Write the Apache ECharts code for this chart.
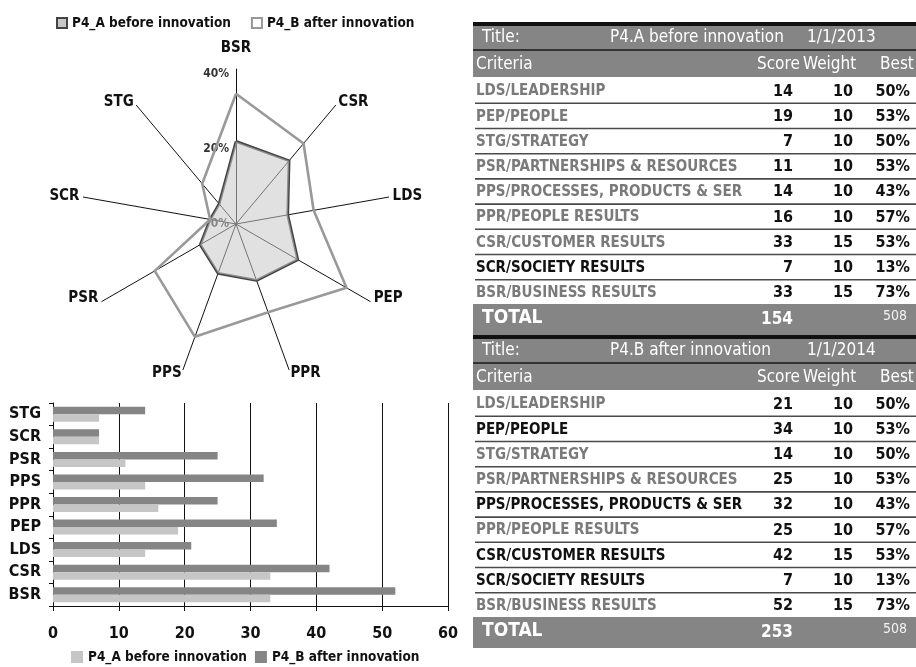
<!DOCTYPE html>
<html>
<head>
<meta charset="utf-8">
<script src="https://cdn.jsdelivr.net/npm/echarts@6/dist/echarts.min.js"></script>
<style>
  html, body { margin: 0; padding: 0; background: #fff; }
  #chart { width: 916px; height: 667px; }
</style>
</head>
<body>
<div id="chart"></div>
<script>
const FONT = "'Liberation Sans Narrow', 'Arial Narrow', 'DejaVu Sans Condensed', sans-serif";

// Scorecard criteria, in table order
const codes = ['LDS', 'PEP', 'STG', 'PSR', 'PPS', 'PPR', 'CSR', 'SCR', 'BSR'];
const criteriaNames = [
  'LDS/LEADERSHIP', 'PEP/PEOPLE', 'STG/STRATEGY', 'PSR/PARTNERSHIPS & RESOURCES',
  'PPS/PROCESSES, PRODUCTS & SER', 'PPR/PEOPLE RESULTS', 'CSR/CUSTOMER RESULTS',
  'SCR/SOCIETY RESULTS', 'BSR/BUSINESS RESULTS'
];
const scoresBefore = [14, 19, 7, 11, 14, 16, 33, 7, 33];
const scoresAfter = [21, 34, 14, 25, 32, 25, 42, 7, 52];
const weights = [10, 10, 10, 10, 10, 10, 15, 10, 15];
const bestPct = [50, 53, 50, 53, 43, 57, 53, 13, 73];
const totalBefore = 154;
const totalAfter = 253;
const bestTotal = 508;
// criteria printed in black (the rest in grey)
const darkBefore = ['SCR'];
const darkAfter = ['PEP', 'PPS', 'CSR', 'SCR'];

// Radar axes: top first, then counter-clockwise
const radarAxes = ['BSR', 'STG', 'SCR', 'PSR', 'PPS', 'PPR', 'PEP', 'LDS', 'CSR'];
const radarBefore = [22, 7, 7, 11, 14, 16, 19, 14, 22];
const radarAfter = [34.7, 14, 7, 25, 32, 25, 34, 21, 28];
const radarTicks = [0, 20, 40];

// Bar chart categories, bottom to top
const barCats = ['BSR', 'CSR', 'LDS', 'PEP', 'PPR', 'PPS', 'PSR', 'SCR', 'STG'];

const NAME_A = 'P4_A before innovation';
const NAME_B = 'P4_B after innovation';

const chart = echarts.init(document.getElementById('chart'), null, { renderer: 'canvas' });

function font(weight, size) {
  return weight + ' ' + size + 'px ' + FONT;
}

function txt(text, x, y, opts) {
  const o = opts || {};
  return {
    type: 'text',
    silent: true,
    style: {
      text: String(text), x: x, y: y,
      fill: o.fill || '#111',
      font: font(o.weight || 'bold', o.size || 15),
      align: o.align || 'left', textAlign: o.align || 'left',
      verticalAlign: 'middle', textVerticalAlign: 'middle'
    }
  };
}

// One scorecard table starting at vertical offset `top`
function tableGraphics(top, label, date, scores, total, darkCodes) {
  const L = 473, R = 916, W = R - L;
  const HEAD = '#858585';
  const els = [];
  els.push({ type: 'rect', silent: true, shape: { x: L, y: top, width: W, height: 4 }, style: { fill: '#111' } });
  els.push({ type: 'rect', silent: true, shape: { x: L, y: top + 4, width: W, height: 51 }, style: { fill: HEAD } });
  els.push({ type: 'rect', silent: true, shape: { x: L, y: top + 27, width: W, height: 2 }, style: { fill: '#333' } });
  els.push(txt('Title:', 482, top + 16, { fill: '#fff', weight: 'normal', size: 17 }));
  els.push(txt(label, 610, top + 16, { fill: '#fff', weight: 'normal', size: 17 }));
  els.push(txt(date, 807, top + 16, { fill: '#fff', weight: 'normal', size: 17 }));
  els.push(txt('Criteria', 476, top + 43, { fill: '#fff', weight: 'normal', size: 17 }));
  els.push(txt('Score', 757, top + 43, { fill: '#fff', weight: 'normal', size: 17 }));
  els.push(txt('Weight', 803, top + 43, { fill: '#fff', weight: 'normal', size: 17 }));
  els.push(txt('Best', 880, top + 43, { fill: '#fff', weight: 'normal', size: 17 }));
  const pitch = 25.2;
  for (let i = 0; i < codes.length; i++) {
    const cy = top + 69.5 + pitch * i;
    const dark = darkCodes.indexOf(codes[i]) >= 0;
    els.push(txt(criteriaNames[i], 476, cy, { fill: dark ? '#111' : '#7a7a7a', size: 15 }));
    els.push(txt(scores[i], 793, cy, { align: 'right', size: 16 }));
    els.push(txt(weights[i], 853, cy, { align: 'right', size: 16 }));
    els.push(txt(bestPct[i] + '%', 910, cy, { align: 'right', size: 16 }));
    if (i < codes.length - 1) {
      els.push({ type: 'rect', silent: true, shape: { x: 475, y: top + 80.5 + pitch * i, width: R - 475, height: 1.6 }, style: { fill: '#4a4a4a' } });
    }
  }
  els.push({ type: 'rect', silent: true, shape: { x: L, y: top + 282, width: W, height: 31 }, style: { fill: HEAD } });
  els.push(txt('TOTAL', 482, top + 296, { fill: '#fff', size: 19 }));
  els.push(txt(total, 793, top + 298, { fill: '#fff', size: 17, align: 'right' }));
  els.push(txt(bestTotal, 907, top + 294, { fill: '#f2f2f2', weight: 'normal', size: 14, align: 'right' }));
  return els;
}

const graphics = [].concat(
  tableGraphics(22, 'P4.A before innovation', '1/1/2013', scoresBefore, totalBefore, darkBefore),
  tableGraphics(335, 'P4.B after innovation', '1/1/2014', scoresAfter, totalAfter, darkAfter)
);

const axisText = { fontFamily: FONT, fontWeight: 'bold', fontSize: 16, color: '#111' };
const RADAR_MAX = 41.3;

const option = {
  backgroundColor: '#fff',
  animation: false,
  textStyle: { fontFamily: FONT },
  legend: [
    {
      left: 51, top: 11, itemWidth: 10, itemHeight: 10, itemGap: 20,
      textStyle: { fontFamily: FONT, fontWeight: 'bold', fontSize: 13.5, color: '#111' },
      data: [
        { name: NAME_A, icon: 'rect', itemStyle: { color: '#c8c8c8', borderColor: '#444', borderWidth: 2 } },
        { name: NAME_B, icon: 'rect', itemStyle: { color: '#fff', borderColor: '#999', borderWidth: 2 } }
      ]
    },
    {
      left: 66, top: 645, itemWidth: 12, itemHeight: 12, itemGap: 8,
      textStyle: { fontFamily: FONT, fontWeight: 'bold', fontSize: 13.5, color: '#111' },
      data: [
        { name: NAME_A, icon: 'rect', itemStyle: { color: '#c6c6c6', borderWidth: 0 } },
        { name: NAME_B, icon: 'rect', itemStyle: { color: '#858585', borderWidth: 0 } }
      ]
    }
  ],
  radar: {
    center: [236, 224],
    radius: 155,
    startAngle: 90,
    shape: 'polygon',
    splitNumber: 1,
    nameGap: 4,
    indicator: radarAxes.map(function (n) { return { name: n, min: 0, max: RADAR_MAX }; }),
    axisName: {
      color: '#111', fontFamily: FONT, fontWeight: 'bold', fontSize: 15,
      // the top label sits a little higher, the two lower side labels slightly raised
      formatter: function (name) {
        if (name === 'BSR') return '{top|' + name + '}';
        if (name === 'PSR' || name === 'PEP') return '{side|' + name + '}';
        return name;
      },
      rich: {
        top: { fontFamily: FONT, fontWeight: 'bold', fontSize: 15, color: '#111', padding: [0, 0, 9, 0] },
        side: { fontFamily: FONT, fontWeight: 'bold', fontSize: 15, color: '#111', padding: [0, 0, 10, 0] }
      }
    },
    axisLine: { lineStyle: { color: '#111', width: 1 } },
    splitLine: { show: false },
    splitArea: { show: false },
    axisTick: { show: false },
    axisLabel: { show: false }
  },
  polar: { center: [236, 224], radius: 155 },
  angleAxis: { type: 'value', min: 0, max: 360, show: false },
  radiusAxis: {
    type: 'value', min: 0, max: RADAR_MAX, interval: 20,
    axisLine: { show: false }, axisTick: { show: false }, splitLine: { show: false },
    axisLabel: {
      showMaxLabel: false, margin: 7,
      fontFamily: FONT, fontWeight: 'bold', fontSize: 12, color: '#333',
      formatter: function (v) { return radarTicks.indexOf(v) >= 0 ? v + '%' : ''; }
    }
  },
  grid: { left: 53, top: 403, width: 395, height: 203 },
  xAxis: {
    type: 'value', min: 0, max: 60, interval: 10,
    axisLine: { show: true, lineStyle: { color: '#111' } },
    axisTick: { show: true, length: 5, lineStyle: { color: '#111' } },
    splitLine: { show: true, lineStyle: { color: '#111', width: 1 } },
    axisLabel: Object.assign({ margin: 20 }, axisText)
  },
  yAxis: {
    type: 'category', data: barCats,
    axisLine: { show: true, lineStyle: { color: '#111' } },
    axisTick: { show: true, length: 4, lineStyle: { color: '#111' } },
    axisLabel: Object.assign({ margin: 12 }, axisText)
  },
  series: [
    {
      type: 'radar', name: NAME_A, symbol: 'none',
      data: [{ name: NAME_A, value: radarBefore }],
      lineStyle: { color: '#444', width: 2.8 },
      itemStyle: { color: '#444' },
      areaStyle: { color: '#c8c8c8', opacity: 0.55 }
    },
    {
      type: 'radar', name: NAME_B, symbol: 'none',
      data: [{ name: NAME_B, value: radarAfter }],
      lineStyle: { color: '#999', width: 2.6 },
      itemStyle: { color: '#999' }
    },
    // "after" bar listed first so it sits above the "before" bar in each row
    {
      type: 'bar', name: NAME_B, barWidth: 7.5, barGap: '0%',
      data: barCats.map(function (c) { return scoresAfter[codes.indexOf(c)]; }),
      itemStyle: { color: '#858585' }
    },
    {
      type: 'bar', name: NAME_A, barWidth: 7.5, barGap: '0%',
      data: barCats.map(function (c) { return scoresBefore[codes.indexOf(c)]; }),
      itemStyle: { color: '#c6c6c6' }
    }
  ],
  graphic: { elements: graphics }
};

chart.setOption(option);
</script>
</body>
</html>
